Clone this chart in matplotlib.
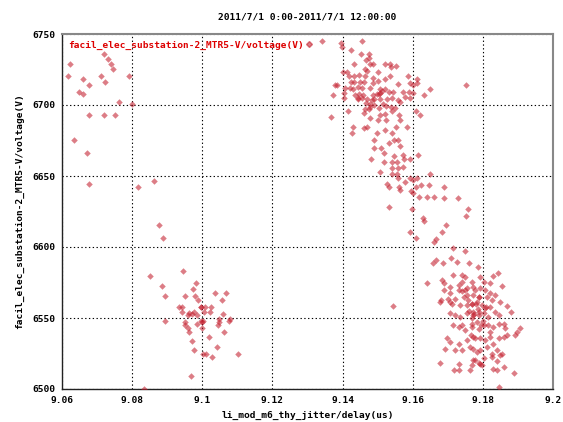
import matplotlib
matplotlib.use("Agg")
import matplotlib.pyplot as plt
from matplotlib.lines import Line2D

title = "2011/7/1 0:00-2011/7/1 12:00:00"
series_name = "facil_elec_substation-2_MTR5-V/voltage(V)"
x_label = "li_mod_m6_thy_jitter/delay(us)"
y_label = "facil_elec_substation-2_MTR5-V/voltage(V)"
x_ticks = [9.06, 9.08, 9.1, 9.12, 9.14, 9.16, 9.18, 9.2]
x_tick_labels = ["9.06", "9.08", "9.1", "9.12", "9.14", "9.16", "9.18", "9.2"]
y_ticks = [6500, 6550, 6600, 6650, 6700, 6750]

# cluster: early samples (top-left)
x_a = [9.0623, 9.0618, 9.0661, 9.0677, 9.0649, 9.0661, 9.0721, 9.0732, 9.0739, 9.0744,
       9.0712, 9.0724, 9.0791, 9.0763, 9.0799, 9.0676, 9.0719, 9.0752, 9.0635, 9.0670,
       9.0676, 9.0816, 9.0863]
y_a = [6728.9, 6720.2, 6718.5, 6714.3, 6709.3, 6707.5, 6735.9, 6732.2, 6728.9, 6725.1,
       6720.2, 6716.0, 6720.4, 6702.3, 6700.5, 6692.9, 6692.9, 6692.9, 6675.1, 6666.3,
       6644.5, 6642.2, 6646.4]

# cluster around 9.10 / 6550
x_b = [9.0877, 9.0889, 9.0851, 9.0886, 9.0894, 9.0894, 9.0835, 9.0946, 9.0983, 9.0974,
       9.0952, 9.0979, 9.0989, 9.1035, 9.1069, 9.1057, 9.0935, 9.0941, 9.0995, 9.1008,
       9.1024, 9.0941, 9.0961, 9.0976, 9.1005, 9.1022, 9.0958, 9.0972, 9.0984, 9.1060,
       9.1079, 9.1047, 9.0996, 9.1003, 9.0952, 9.1077, 9.1047, 9.0951, 9.0958, 9.0985,
       9.1045, 9.0962, 9.1000, 9.1063, 9.0971, 9.1019, 9.0975, 9.1042, 9.1002, 9.1010,
       9.1029, 9.1101, 9.0969, 9.0996, 9.1000]
y_b = [6615.4, 6606.0, 6579.5, 6572.4, 6565.4, 6547.7, 6500.3, 6583.0, 6574.3, 6570.5,
       6565.6, 6565.6, 6562.8, 6567.3, 6567.3, 6563.0, 6557.8, 6557.8, 6557.8, 6557.8,
       6557.8, 6554.3, 6553.6, 6554.3, 6554.3, 6554.3, 6551.8, 6552.5, 6552.0, 6552.5,
       6549.6, 6549.6, 6547.7, 6547.7, 6547.2, 6547.7, 6547.0, 6545.0, 6543.3, 6545.8,
       6545.0, 6539.8, 6543.0, 6540.0, 6534.1, 6536.3, 6527.3, 6529.4, 6525.0, 6525.0,
       6522.2, 6525.0, 6509.0, 6558.0, 6547.5]

# cluster around 9.15 / 6700 and the tail down to 9.17
x_c = [9.1341, 9.1395, 9.1399, 9.1456, 9.1424, 9.1453, 9.1474, 9.1475, 9.1466, 9.1434,
       9.1477, 9.1488, 9.1520, 9.1536, 9.1553, 9.1539, 9.1464, 9.1470, 9.1401, 9.1414,
       9.1500, 9.1418, 9.1432, 9.1447, 9.1464, 9.1486, 9.1522, 9.1536, 9.1586, 9.1612,
       9.1502, 9.1423, 9.1434, 9.1450, 9.1379, 9.1385, 9.1486, 9.1557, 9.1593, 9.1602,
       9.1612, 9.1753, 9.1407, 9.1422, 9.1431, 9.1443, 9.1477, 9.1507, 9.1513, 9.1520,
       9.1531, 9.1545, 9.1572, 9.1588, 9.1602, 9.1650, 9.1372, 9.1403, 9.1436, 9.1446,
       9.1458, 9.1488, 9.1498, 9.1507, 9.1631, 9.1405, 9.1443, 9.1455, 9.1471, 9.1485,
       9.1507, 9.1526, 9.1541, 9.1557, 9.1579, 9.1591, 9.1466, 9.1479, 9.1490, 9.1514,
       9.1524, 9.1538, 9.1550, 9.1564, 9.1464, 9.1479, 9.1505, 9.1416, 9.1367, 9.1460,
       9.1477, 9.1507, 9.1522, 9.1541, 9.1609, 9.1621, 9.1561, 9.1502, 9.1524, 9.1564,
       9.1431, 9.1460, 9.1469, 9.1520, 9.1553, 9.1585, 9.1428, 9.1498, 9.1542, 9.1490,
       9.1547, 9.1557, 9.1532, 9.1564, 9.1491, 9.1509, 9.1517, 9.1548, 9.1572, 9.1614,
       9.1482, 9.1575, 9.1519, 9.1541, 9.1555, 9.1542, 9.1559, 9.1572, 9.1593, 9.1508,
       9.1542, 9.1555, 9.1650, 9.1557, 9.1579, 9.1591, 9.1602, 9.1612, 9.1623, 9.1610,
       9.1646, 9.1526, 9.1531, 9.1562, 9.1564, 9.1595, 9.1602, 9.1619, 9.1642, 9.1662,
       9.1688, 9.1728, 9.1688, 9.1531, 9.1599, 9.1757, 9.1629, 9.1751, 9.1631, 9.1694,
       9.1591, 9.1610, 9.1683, 9.1666, 9.1662, 9.1714, 9.1750, 9.1544,
       9.1455, 9.1505, 9.1445, 9.1475, 9.1460, 9.1490]
y_c = [6745.1, 6743.4, 6741.1, 6745.1, 6738.5, 6735.9, 6735.9, 6733.1, 6731.7, 6728.6,
       6728.6, 6728.6, 6729.1, 6729.1, 6727.4, 6726.5, 6725.1, 6724.1, 6723.4, 6723.4,
       6723.4, 6720.2, 6720.2, 6720.9, 6720.2, 6719.2, 6718.3, 6720.4, 6720.4, 6718.3,
       6716.9, 6716.0, 6716.0, 6716.0, 6714.1, 6714.1, 6715.7, 6714.6, 6715.3, 6714.1,
       6715.3, 6714.1, 6712.2, 6711.7, 6711.0, 6712.4, 6711.7, 6711.2, 6709.8, 6711.2,
       6709.3, 6709.3, 6709.3, 6709.3, 6708.6, 6711.0, 6707.0, 6708.2, 6707.0, 6707.7,
       6707.0, 6707.0, 6707.7, 6708.2, 6707.0, 6705.1, 6704.7, 6704.7, 6704.0, 6703.5,
       6704.2, 6704.2, 6704.7, 6703.5, 6705.8, 6704.7, 6701.2, 6700.7, 6700.0, 6700.7,
       6699.3, 6698.8, 6697.6, 6702.3, 6697.4, 6698.3, 6697.6, 6696.0, 6691.3, 6694.1,
       6691.0, 6692.9, 6693.4, 6696.0, 6696.0, 6692.9, 6692.7, 6689.4, 6689.4, 6689.4,
       6684.3, 6684.0, 6684.7, 6682.6, 6684.3, 6684.3, 6680.0, 6680.0, 6680.0, 6675.3,
       6675.3, 6675.3, 6673.0, 6671.1, 6669.5, 6669.5, 6665.9, 6664.0, 6664.7, 6664.5,
       6661.9, 6661.9, 6660.0, 6660.0, 6660.0, 6655.4, 6655.4, 6656.5, 6661.7, 6653.0,
       6651.3, 6651.3, 6651.1, 6648.3, 6645.9, 6648.3, 6647.1, 6648.3, 6643.6, 6642.4,
       6643.6, 6644.3, 6642.4, 6642.4, 6640.1, 6639.6, 6637.7, 6635.3, 6635.3, 6635.3,
       6642.4, 6634.2, 6634.2, 6628.3, 6626.5, 6626.5, 6620.1, 6621.7, 6618.4, 6615.4,
       6610.5, 6606.0, 6610.3, 6605.3, 6603.2, 6599.0, 6597.1, 6558.3,
       6712.0, 6708.0, 6704.0, 6697.0, 6716.0, 6704.5]

# cluster around 9.178 / 6550
x_d = [9.1659, 9.1666, 9.1709, 9.1686, 9.1726, 9.1760, 9.1785, 9.1640, 9.1683, 9.1688,
       9.1716, 9.1741, 9.1750, 9.1705, 9.1731, 9.1741, 9.1769, 9.1690, 9.1707, 9.1731,
       9.1740, 9.1755, 9.1772, 9.1680, 9.1702, 9.1721, 9.1745, 9.1759, 9.1773, 9.1788,
       9.1712, 9.1736, 9.1755, 9.1769, 9.1678, 9.1707, 9.1707, 9.1721, 9.1736, 9.1755,
       9.1773, 9.1788, 9.1716, 9.1731, 9.1750, 9.1769, 9.1788, 9.1698, 9.1707, 9.1731,
       9.1755, 9.1778, 9.1693, 9.1721, 9.1740, 9.1764, 9.1783, 9.1731, 9.1778, 9.1790,
       9.1678, 9.1719, 9.1733, 9.1764,
       9.1842, 9.1830, 9.1854, 9.1821, 9.1793, 9.1802, 9.1778, 9.1793, 9.1807, 9.1821,
       9.1812, 9.1826, 9.1835, 9.1850, 9.1870, 9.1880, 9.1769, 9.1783, 9.1797, 9.1807,
       9.1821, 9.1773, 9.1788, 9.1802, 9.1816, 9.1835, 9.1845, 9.1907, 9.1859, 9.1864,
       9.1892, 9.1897, 9.1769, 9.1783, 9.1802, 9.1816, 9.1830, 9.1845, 9.1859, 9.1845,
       9.1869, 9.1773, 9.1793, 9.1807, 9.1821, 9.1830, 9.1773, 9.1793, 9.1812, 9.1826,
       9.1840, 9.1854, 9.1773, 9.1793, 9.1802, 9.1826, 9.1840, 9.1850, 9.1828, 9.1840,
       9.1859, 9.1888, 9.1847, 9.1769, 9.1797,
       9.1780, 9.1760, 9.1800, 9.1750, 9.1820, 9.1740, 9.1790, 9.1770, 9.1810, 9.1765,
       9.1785, 9.1755, 9.1795, 9.1775]
y_d = [6588.8, 6590.7, 6592.4, 6588.4, 6589.5, 6588.4, 6586.0, 6574.3, 6576.6, 6574.3,
       6580.2, 6580.2, 6579.0, 6571.9, 6573.1, 6575.4, 6575.4, 6569.6, 6567.3, 6569.6,
       6569.1, 6570.8, 6571.9, 6562.5, 6563.7, 6563.7, 6564.9, 6562.5, 6566.1, 6564.5,
       6560.2, 6559.0, 6559.0, 6560.2, 6561.4, 6561.4, 6553.2, 6552.0, 6550.8, 6553.2,
       6552.0, 6554.3, 6544.9, 6543.7, 6541.4, 6543.7, 6542.6, 6535.6, 6533.2, 6532.0,
       6534.4, 6535.6, 6528.5, 6527.3, 6527.3, 6529.6, 6526.1, 6517.9, 6520.3, 6518.4,
       6518.4, 6513.2, 6513.2, 6513.2,
       6581.4, 6579.5, 6572.4, 6574.7, 6579.0, 6575.4, 6569.6, 6570.8, 6569.6, 6567.3,
       6564.9, 6562.5, 6566.1, 6561.4, 6558.3, 6554.3, 6560.2, 6561.4, 6559.0, 6556.7,
       6557.8, 6554.3, 6552.0, 6553.2, 6550.8, 6554.3, 6552.0, 6543.3, 6546.1, 6543.3,
       6537.9, 6540.2, 6546.1, 6547.3, 6544.9, 6544.9, 6543.7, 6546.1, 6536.7, 6535.6,
       6537.9, 6536.7, 6535.6, 6534.4, 6536.7, 6532.0, 6528.5, 6527.3, 6529.6, 6525.0,
       6527.3, 6525.0, 6520.3, 6517.9, 6521.5, 6522.2, 6519.8, 6523.8, 6513.9, 6513.2,
       6515.5, 6511.3, 6501.5, 6516.7, 6516.7,
       6560.0, 6555.0, 6548.0, 6570.0, 6540.0, 6545.0, 6565.0, 6550.0, 6558.0, 6538.0,
       6556.0, 6566.0, 6545.0, 6553.0]

xs = x_a + x_b + x_c + x_d
ys = y_a + y_b + y_c + y_d

plt.rcParams['font.family'] = ['DejaVu Sans Mono']
plt.rcParams['font.weight'] = 'bold'
fs = 6.8

fig = plt.figure(figsize=(5.63, 4.22), dpi=100)
ax = fig.add_axes([62/563, 1-389/422, (553-62)/563, (389-34)/422])

ax.scatter(xs, ys, marker='D', s=11, color='#c4202f', alpha=0.58, linewidths=0, zorder=3)

ax.set_xlim(9.06, 9.2)
ax.set_ylim(6500, 6750)
ax.set_xticks(x_ticks)
ax.set_xticklabels(x_tick_labels, fontsize=fs, fontweight='bold')
ax.set_yticks(y_ticks)
ax.set_yticklabels([str(v) for v in y_ticks], fontsize=fs, fontweight='bold')
ax.tick_params(length=0, pad=5)
ax.grid(True, color='black', linestyle=(0, (1.2, 2.2)), linewidth=0.8)
ax.set_axisbelow(True)
for side in ['left', 'bottom']:
    ax.spines[side].set_color('#222222')
    ax.spines[side].set_linewidth(1.0)
for side in ['top', 'right']:
    ax.spines[side].set_color('#888888')
    ax.spines[side].set_linewidth(1.5)

ax.set_xlabel(x_label, fontsize=fs, fontweight='bold', labelpad=4)
ax.set_ylabel(y_label, fontsize=fs, fontweight='bold', labelpad=6)
fig.text(307/563, 1-17/422, title, ha='center', va='center', fontsize=fs, fontweight='bold')

handle = Line2D([], [], marker='D', markersize=3, color='#c4202f', alpha=0.58, linestyle='none')
leg = ax.legend([handle], [series_name], loc='upper left', frameon=False, markerfirst=False,
                handlelength=0.6, handletextpad=0.2, borderaxespad=0.3,
                prop={'family': 'DejaVu Sans Mono', 'weight': 'bold', 'size': fs})
for t in leg.get_texts():
    t.set_color('#dd0000')

fig.savefig('out.png', dpi=100)
